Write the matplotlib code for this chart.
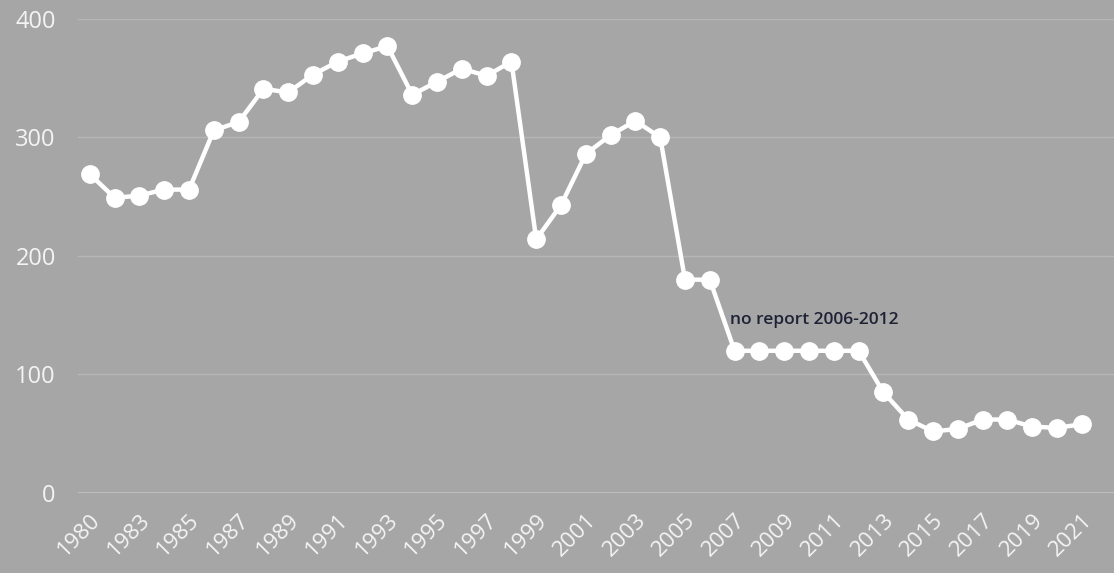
import numpy as np
import matplotlib.pyplot as plt

years = [1980, 1982] + list(range(1983, 2022))
values = [269, 249, 251, 256, 256, 306, 313, 341, 338, 353, 364, 371, 377,
          336, 347, 358, 352, 364, 214, 243, 286, 302, 314, 300, 180, 180,
          120, 120, 120, 120, 120, 120, 85, 62, 52, 54, 62, 62, 56, 55, 58]
tick_labels = [str(y) if i % 2 == 0 else '' for i, y in enumerate(years)]
yticks = [0, 100, 200, 300, 400]
note = 'no report 2006-2012'

bg = '#a6a6a6'
fig = plt.figure(figsize=(11.14, 5.73), dpi=100, facecolor=bg)
ax = fig.add_axes([0.07, 0.1396, 0.93, 0.8274], facecolor=bg)

x = np.arange(len(years))
ax.plot(x, values, color='white', lw=3.2, marker='o', ms=12.5,
        solid_capstyle='round', clip_on=False, zorder=3)

ax.set_xlim(-0.48, len(years) - 1 + 1.3)
ax.set_ylim(0, 400)
ax.set_yticks(yticks)
ax.set_yticklabels([str(t) for t in yticks], fontsize=17, color='#f4f4f4',
                   family='Open Sans')
for t in yticks:
    ax.axhline(t, color='#c2c2c2' if t == 0 else '#b6b6b6',
               lw=2 if t == 0 else 1, zorder=1)

ax.set_xticks(x)
ax.set_xticklabels(tick_labels, rotation=45, ha='right', rotation_mode='anchor',
                   fontsize=16, color='#f4f4f4', family='Open Sans')
ax.tick_params(axis='both', length=0)
ax.tick_params(axis='y', pad=16)
ax.tick_params(axis='x', pad=12)
for s in ax.spines.values():
    s.set_visible(False)

ax.text(years.index(2007) - 0.2, 146, note, fontsize=12.5, fontweight='semibold',
        color='#1e2235', family='Open Sans', va='center', ha='left')

fig.savefig('out.png', dpi=100, facecolor=bg)
